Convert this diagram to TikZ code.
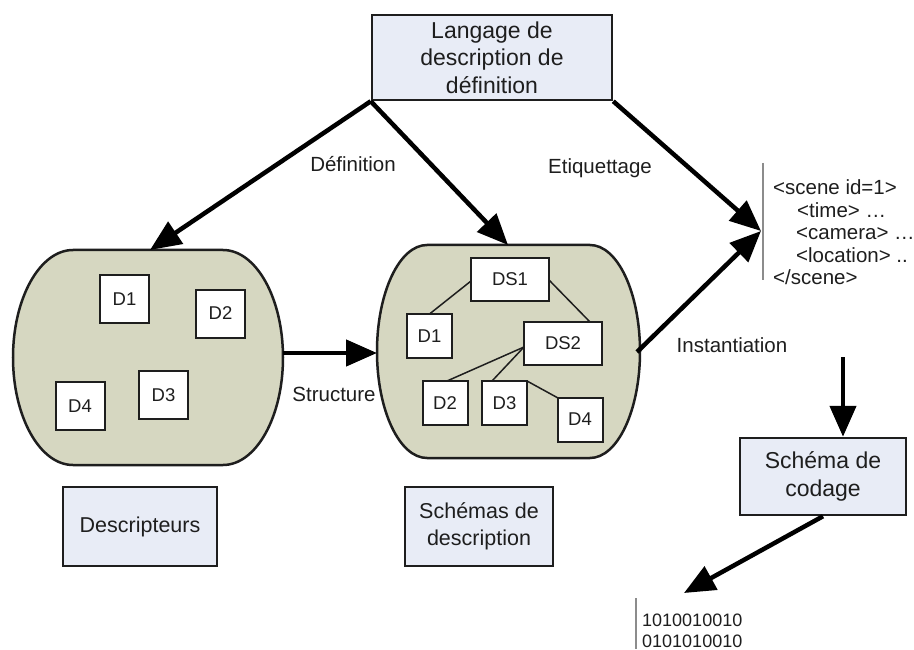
\documentclass[tikz,border=0pt]{standalone}
\usepackage{fontspec}
\setmainfont{Liberation Sans}
\usetikzlibrary{arrows.meta}
\definecolor{boxfill}{RGB}{232,236,246}
\definecolor{blobfill}{RGB}{214,215,193}
\definecolor{ink}{RGB}{30,30,30}
\definecolor{rule}{RGB}{140,140,140}

\begin{document}
\begin{tikzpicture}[x=1pt,y=-1pt,
  labelbox/.style={draw=ink, line width=2.5pt, fill=boxfill, text=ink, align=center,
    font=\fontsize{21.5}{27}\selectfont, inner sep=0pt},
  bigtext/.style={font=\fontsize{23}{27.5}\selectfont},
  item/.style={draw=ink, line width=2pt, fill=white, text=ink,
    font=\fontsize{18.5}{22}\selectfont, inner sep=0pt},
  blob/.style={draw=ink, line width=2.5pt, fill=blobfill},
  bigarrow/.style={draw=black, line width=4.5pt, -{Triangle[length=31pt,width=26pt]}},
  edgelabel/.style={text=ink, font=\fontsize{20.5}{24}\selectfont, inner sep=0pt},
  codeline/.style={text=ink, font=\fontsize{20.5}{22}\selectfont, anchor=base west, inner sep=0pt},
  binline/.style={text=ink, font=\fontsize{18}{20}\selectfont, anchor=base west, inner sep=0pt},
  link/.style={draw=ink, line width=1.5pt},
  bar/.style={draw=rule, line width=1.5pt}]

\useasboundingbox[fill=white] (0,0) rectangle (914,650);

% descriptor collection and description-scheme collection
\draw[blob] (73,250) -- (223,250) .. controls (256.1,250) and (283,298.1) .. (283,357.5)
  .. controls (283,416.9) and (256.1,465) .. (223,465) -- (73,465)
  .. controls (39.9,465) and (13,416.9) .. (13,357.5)
  .. controls (13,298.1) and (39.9,250) .. (73,250) -- cycle;
\draw[blob] (427,245) -- (590,245) .. controls (617.6,245) and (640,292.7) .. (640,351.5)
  .. controls (640,410.3) and (617.6,458) .. (590,458) -- (427,458)
  .. controls (399.4,458) and (377,410.3) .. (377,351.5)
  .. controls (377,292.7) and (399.4,245) .. (427,245) -- cycle;

\coordinate (lbtop) at (150,250);
\coordinate (lbright) at (283,353);
\coordinate (mbtop) at (508,245);
\coordinate (mbleft) at (377,353);
\coordinate (mbright) at (637,352);

% descriptors
\node[item, minimum width=49pt, minimum height=48pt] (d1) at (124.5,299) {D1};
\node[item, minimum width=49pt, minimum height=48pt] (d2) at (220.5,313.5) {D2};
\node[item, minimum width=49pt, minimum height=48pt] (d3) at (163.5,395) {D3};
\node[item, minimum width=49pt, minimum height=48pt] (d4) at (80,406) {D4};

% description scheme tree
\draw[link] (471,281) -- (429.5,314);
\draw[link] (549,280) -- (590,322);
\draw[link] (524,347) -- (447,381);
\draw[link] (524,347) -- (492,381);
\draw[link] (527,381) -- (558,398);
\node[item, minimum width=78pt, minimum height=43pt] (ds1) at (510,279.5) {DS1};
\node[item, minimum width=78pt, minimum height=43pt] (ds2) at (563,343.5) {DS2};
\node[item, minimum width=45pt, minimum height=44pt] (m1) at (429.5,336) {D1};
\node[item, minimum width=45pt, minimum height=44pt] (m2) at (445,403) {D2};
\node[item, minimum width=45pt, minimum height=44pt] (m3) at (504.5,403) {D3};
\node[item, minimum width=45pt, minimum height=44pt] (m4) at (580,419.5) {D4};

% labelled boxes
\node[labelbox, bigtext, minimum width=240pt, minimum height=85pt] (ddl) at (492,57.5)
  {Langage de\\description de\\définition};
\node[labelbox, minimum width=154pt, minimum height=79pt] (desc) at (140,526.5) {Descripteurs};
\node[labelbox, minimum width=148pt, minimum height=79pt] (dsch) at (479,526.5)
  {Schémas de\\description};
\node[labelbox, bigtext, minimum width=166pt, minimum height=77pt] (codage) at (823,476.5)
  {Schéma de\\codage};

% instance document
\coordinate (codetop) at (763,163);
\coordinate (codebot) at (763,280);
\draw[bar] (codetop) -- (codebot);
\coordinate (codein) at (761,231);
\node[codeline] (c1) at (773,195) {<scene id=1>};
\node[codeline] (c2) at (797,217.5) {<time> …};
\node[codeline] (c3) at (796,240) {<camera> …};
\node[codeline] (c4) at (796,262.5) {<location> ..};
\node[codeline] (c5) at (773,284) {</scene>};
\coordinate (codeout) at (843,357);

% encoded bit stream
\coordinate (bintop) at (636,598);
\coordinate (binbot) at (636,649);
\draw[bar] (bintop) -- (binbot);
\coordinate (binin) at (684,593);
\node[binline] (b1) at (642,626.5) {1010010010};
\node[binline] (b2) at (642,647) {0101010010};

% flows
\draw[bigarrow] (ddl.south west) -- (lbtop);
\draw[bigarrow] (ddl.south west) -- (mbtop);
\draw[bigarrow] (ddl.south east) -- (codein);
\draw[bigarrow] (lbright) -- (mbleft);
\draw[bigarrow] (mbright) -- (codein);
\draw[bigarrow] (codeout) -- ([xshift=20pt]codage.north);
\draw[bigarrow] (codage.south) -- (binin);

% flow labels
\node[edgelabel] (ldef) at (353,164) {Définition};
\node[edgelabel] (ltag) at (600,168) {Etiquettage};
\node[edgelabel] (linst) at (732,345) {Instantiation};
\node[edgelabel] (lstruct) at (334,394) {Structure};
\end{tikzpicture}
\end{document}
